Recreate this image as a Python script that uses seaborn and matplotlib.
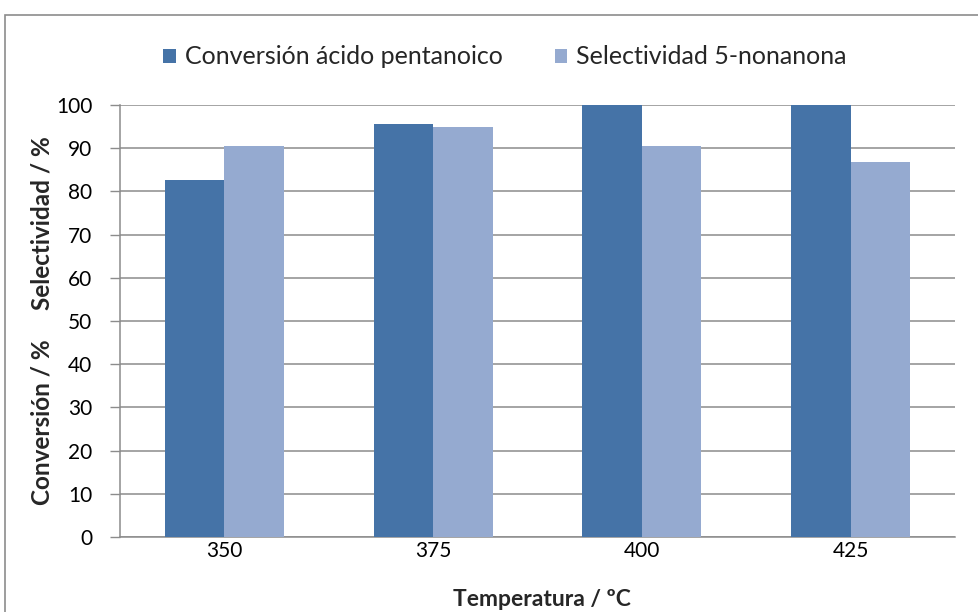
import matplotlib
matplotlib.use("Agg")
import matplotlib.pyplot as plt
import seaborn as sns
import pandas as pd
from matplotlib.patches import Rectangle
from matplotlib.ticker import MultipleLocator

temperaturas = ["350", "375", "400", "425"]
conversion = [82.6, 95.7, 100.0, 100.0]
selectividad = [90.6, 94.9, 90.6, 86.8]
series = ["Conversión ácido pentanoico", "Selectividad 5-nonanona"]
colores = ["#4573A7", "#95AAD0"]

df = pd.DataFrame({
    "Temperatura": temperaturas * 2,
    "Valor": conversion + selectividad,
    "Serie": [series[0]] * 4 + [series[1]] * 4,
})

sns.set_theme(style="white")
plt.rcParams["font.family"] = ["Lato", "DejaVu Sans"]

fig = plt.figure(figsize=(9.79, 6.12), dpi=100)
ax = fig.add_axes([120 / 979, 1 - 537 / 612, (955 - 120) / 979, (537 - 105) / 612])

sns.barplot(data=df, x="Temperatura", y="Valor", hue="Serie", order=temperaturas,
            hue_order=series, palette=colores, saturation=1, width=0.57, ax=ax,
            edgecolor="none", linewidth=0, zorder=3)

ax.set_xlim(-0.5, 3.5)
ax.set_ylim(0, 100)
ax.yaxis.set_major_locator(MultipleLocator(10))
ax.grid(axis="y", color="#8C8C8C", linewidth=1.1, zorder=0)
ax.set_axisbelow(True)

ax.set_xticks(range(4))
ax.set_xticklabels(temperaturas)
ax.set_xticks([-0.5, 0.5, 1.5, 2.5, 3.5], minor=True)
ax.tick_params(axis="x", which="major", length=0, pad=3, labelsize=15, colors="black")
ax.tick_params(axis="x", which="minor", length=7, width=1, color="#8C8C8C", direction="out")
ax.tick_params(axis="y", which="major", length=7, width=1, color="#8C8C8C", direction="out",
               labelsize=15, pad=13, labelcolor="black", left=True)

for s in ["top", "right"]:
    ax.spines[s].set_visible(False)
for s in ["left", "bottom"]:
    ax.spines[s].set_color("#8C8C8C")
    ax.spines[s].set_linewidth(1.1)

ax.set_xlabel("Temperatura / ºC", fontsize=16.5, fontweight="bold")
ax.xaxis.set_label_coords(0.505, -0.12)
ax.set_ylabel("Conversión / %     Selectividad / %", fontsize=17.5, fontweight="bold")
ax.yaxis.set_label_coords(-0.080, 0.502)

leg = ax.legend(loc="center", bbox_to_anchor=(505 / 979, 1 - 57 / 612), bbox_transform=fig.transFigure,
                ncol=2, frameon=False, fontsize=18, handlelength=0.5, handleheight=0.5,
                handletextpad=0.36, columnspacing=2.1, borderpad=0)

fig.patches.append(Rectangle((5 / 979, -0.1), 1.2, 1 - 15 / 612 + 0.1, transform=fig.transFigure,
                             fill=False, edgecolor="#8C8C8C", linewidth=1.2, clip_on=False))

fig.savefig("out.png", dpi=100, facecolor="white")
